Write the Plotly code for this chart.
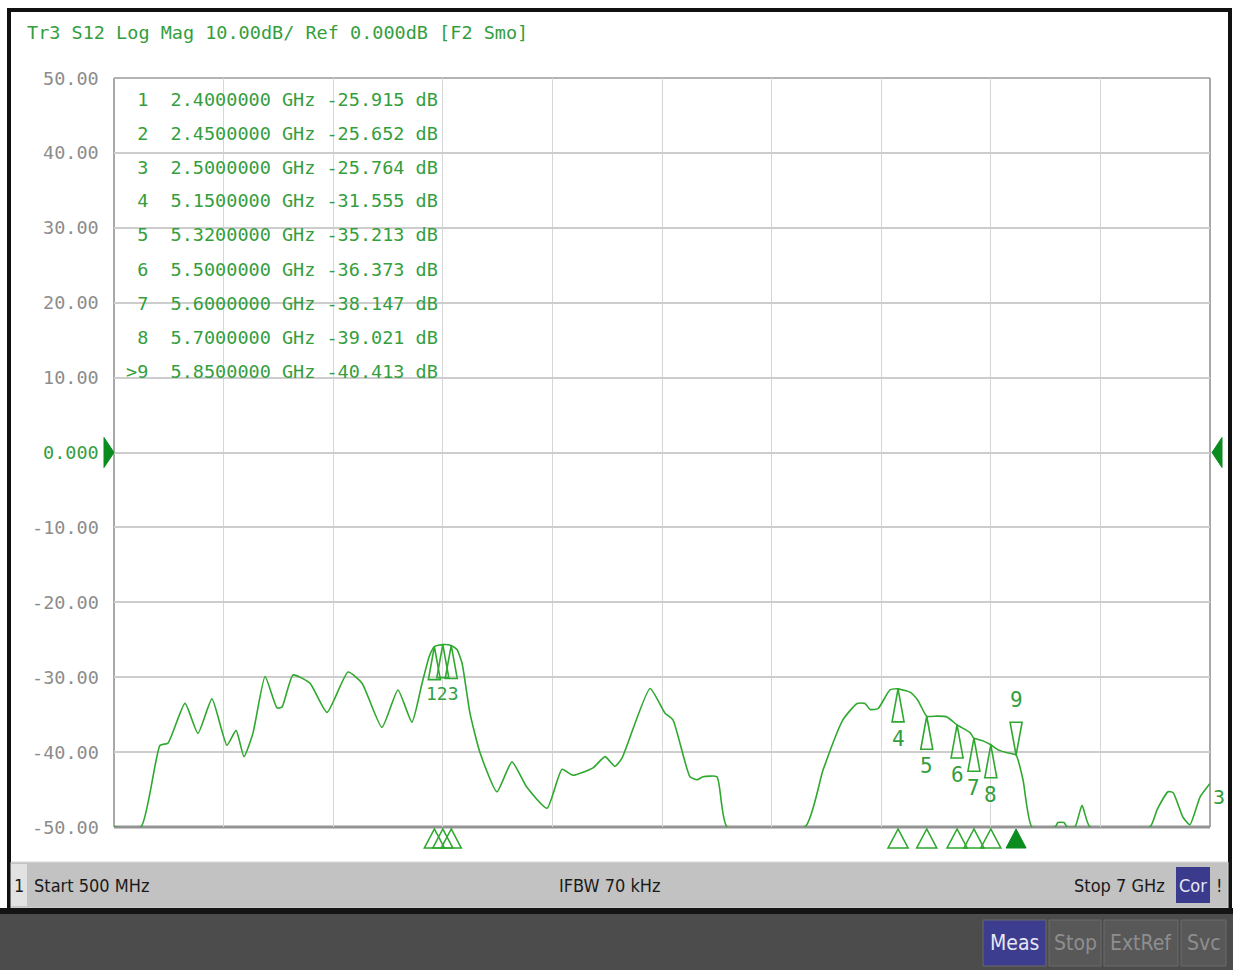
import plotly.graph_objects as go

# ---- measured S12 trace (frequency in GHz, magnitude in dB; display floor at -50 dB) ----
freq_ghz = [0.50, 0.66, 0.773, 0.82, 0.921, 0.998, 1.081, 1.17, 1.224, 1.271, 1.324, 1.396,
            1.467, 1.496, 1.562, 1.662, 1.763, 1.888, 1.971, 2.089, 2.184, 2.267, 2.327, 2.37,
            2.40, 2.45, 2.50, 2.534, 2.564, 2.611, 2.671, 2.771, 2.86, 2.949, 3.068, 3.157,
            3.222, 3.341, 3.412, 3.471, 3.513, 3.679, 3.768, 3.815, 3.916, 3.958, 3.993, 4.076,
            4.136, 4.598, 4.705, 4.823, 4.907, 4.954, 4.984, 5.031, 5.102, 5.15, 5.221, 5.268,
            5.32, 5.381, 5.44, 5.50, 5.577, 5.60, 5.654, 5.70, 5.743, 5.80, 5.85, 5.891, 5.944,
            6.081, 6.098, 6.134, 6.152, 6.199, 6.241, 6.288, 6.644, 6.686, 6.751, 6.781, 6.84,
            6.881, 6.941, 7.0]
s12_db = [-50, -50, -39.1, -38.8, -33.5, -37.5, -32.9, -39.1, -37.1, -40.6, -37.5, -29.9,
          -34.1, -34.0, -29.7, -30.8, -34.7, -29.3, -30.8, -36.7, -31.7, -36.0, -30.8, -27.2,
          -25.915, -25.652, -25.764, -26.3, -28.1, -34.8, -40.1, -45.3, -41.3, -44.7, -47.5, -42.3,
          -43.1, -42.1, -40.6, -41.9, -40.8, -31.5, -34.8, -35.7, -43.3, -43.7, -43.3, -43.3,
          -50, -50, -42.4, -35.7, -33.5, -33.5, -34.3, -34.2, -31.7, -31.555, -32.0, -33.1,
          -35.213, -35.2, -35.3, -36.373, -37.4, -38.147, -38.5, -39.021, -39.7, -40.1, -40.413, -43.7, -50,
          -50, -49.4, -49.4, -50, -50, -47.1, -50, -50, -47.7, -45.3, -45.4, -48.7,
          -49.7, -46.0, -44.2]

# ---- markers ----
marker_ids = [1, 2, 3, 4, 5, 6, 7, 8, 9]
marker_freq = [2.40, 2.45, 2.50, 5.15, 5.32, 5.50, 5.60, 5.70, 5.85]
marker_db = [-25.915, -25.652, -25.764, -31.555, -35.213, -36.373, -38.147, -39.021, -40.413]
active_marker = 9
# markers 1-3 sit within a few pixels of each other, so they share one label
marker_group = [1, 2, 3]

# ---- axes ----
f_start, f_stop = 0.5, 7.0
x_divisions = 10
y_ticks = [50, 40, 30, 20, 10, 0, -10, -20, -30, -40, -50]
y_tick_text = ["50.00", "40.00", "30.00", "20.00", "10.00", "0.000",
               "-10.00", "-20.00", "-30.00", "-40.00", "-50.00"]
ref_level = 0

title_text = "Tr3 S12 Log Mag 10.00dB/ Ref 0.000dB [F2 Smo]"
status_left = "Start 500 MHz"
status_mid = "IFBW 70 kHz"
status_right = "Stop 7 GHz"
buttons = ["Meas", "Stop", "ExtRef", "Svc"]

# ---- page geometry (pixels) ----
W, H = 1233, 970
L, R, T, B = 114, 1210, 78, 827

def px(x):
    return (x - L) / (R - L)

def py(y):
    return (B - y) / (B - T)

GREEN = "rgb(46,168,46)"
TEXT_GREEN = "rgb(52,158,62)"
DARK_GREEN = "rgb(10,140,30)"
MONO = "DejaVu Sans Mono, Liberation Mono, monospace"
NARROW = "Liberation Sans Narrow, DejaVu Sans Condensed, Roboto, sans-serif"

fig = go.Figure()
fig.add_trace(go.Scatter(
    x=freq_ghz, y=s12_db, mode="lines",
    line=dict(color=GREEN, width=1.6, shape="spline", smoothing=0.5),
    cliponaxis=False, hoverinfo="skip", showlegend=False,
))

shapes = []
annotations = []

def label(x, y, text, size, color, family=NARROW, xanchor="center", **kw):
    annotations.append(dict(x=x, y=y, xref="paper", yref="paper", xanchor=xanchor, yanchor="middle",
                            text=text, showarrow=False, font=dict(family=family, size=size, color=color),
                            **kw))

# plot frame
shapes.append(dict(type="line", xref="paper", yref="paper", x0=0, x1=0, y0=0, y1=1,
                   line=dict(color="#a8a8a8", width=2), layer="below"))
shapes.append(dict(type="line", xref="paper", yref="paper", x0=0, x1=1, y0=1, y1=1,
                   line=dict(color="#b4b4b4", width=2), layer="below"))
shapes.append(dict(type="line", xref="paper", yref="paper", x0=1, x1=1, y0=0, y1=1,
                   line=dict(color="#a8a8a8", width=2), layer="below"))
shapes.append(dict(type="line", xref="paper", yref="paper", x0=0, x1=1, y0=0, y1=0,
                   line=dict(color="#949494", width=3), layer="below"))

# reference level arrows
shapes.append(dict(type="path", xref="paper", yref="y", xsizemode="pixel", ysizemode="pixel",
                   xanchor=0, yanchor=ref_level, path="M -10,15 L 0,0 L -10,-15 Z",
                   fillcolor=DARK_GREEN, line=dict(color=DARK_GREEN, width=1)))
shapes.append(dict(type="path", xref="paper", yref="y", xsizemode="pixel", ysizemode="pixel",
                   xanchor=1, yanchor=ref_level, path="M 12,15 L 2,0 L 12,-15 Z",
                   fillcolor=DARK_GREEN, line=dict(color=DARK_GREEN, width=1)))

# markers on the trace + stimulus markers under the grid
for mid, f, v in zip(marker_ids, marker_freq, marker_db):
    if mid == active_marker:
        shapes.append(dict(type="path", xref="x", yref="y", xsizemode="pixel", ysizemode="pixel",
                           xanchor=f, yanchor=v, path="M 0,0 L -6,33 L 6,33 Z",
                           line=dict(color=GREEN, width=1.6)))
        annotations.append(dict(x=f, y=v, xref="x", yref="y", text=str(mid), showarrow=False,
                                yshift=55, font=dict(family=MONO, size=21, color=TEXT_GREEN)))
        shapes.append(dict(type="path", xref="x", yref="paper", xsizemode="pixel", ysizemode="pixel",
                           xanchor=f, yanchor=0, path="M 0,-2 L -10,-21 L 10,-21 Z",
                           fillcolor=DARK_GREEN, line=dict(color=DARK_GREEN, width=1)))
    else:
        shapes.append(dict(type="path", xref="x", yref="y", xsizemode="pixel", ysizemode="pixel",
                           xanchor=f, yanchor=v, path="M 0,0 L -6,-33 L 6,-33 Z",
                           line=dict(color=GREEN, width=1.6)))
        shapes.append(dict(type="path", xref="x", yref="paper", xsizemode="pixel", ysizemode="pixel",
                           xanchor=f, yanchor=0, path="M 0,-2 L -10,-21 L 10,-21 Z",
                           line=dict(color=GREEN, width=1.6)))
        if mid not in marker_group:
            annotations.append(dict(x=f, y=v, xref="x", yref="y", text=str(mid), showarrow=False,
                                    yshift=-50, font=dict(family=MONO, size=21, color=TEXT_GREEN)))

# shared label for the clustered markers
g_idx = [marker_ids.index(m) for m in marker_group]
g_mid = g_idx[len(g_idx) // 2]
annotations.append(dict(x=marker_freq[g_mid], y=marker_db[g_mid], xref="x", yref="y",
                        text="".join(str(m) for m in marker_group), showarrow=False, yshift=-49,
                        font=dict(family=MONO, size=18, color=TEXT_GREEN)))

# marker table
for i, (mid, f, v) in enumerate(zip(marker_ids, marker_freq, marker_db)):
    prefix = (">" if mid == active_marker else " ") + str(mid)
    row = f"{prefix}  {f:.7f} GHz {v:.3f} dB"
    label(px(124), py(99 + 34 * i), row.replace(" ", "&nbsp;"), 18.5, TEXT_GREEN, family=MONO,
          xanchor="left")

# y tick labels
for v, t in zip(y_ticks, y_tick_text):
    annotations.append(dict(x=0, y=v, xref="paper", yref="y", xanchor="right", yanchor="middle",
                            xshift=-13, text=t, showarrow=False,
                            font=dict(family=MONO, size=18.5,
                                      color=TEXT_GREEN if v == ref_level else "#8c8c8c")))

# trace title
label(px(25), py(33), title_text.replace(" ", "&nbsp;"), 18.5, TEXT_GREEN, family=MONO, xanchor="left")
annotations.append(dict(x=1, y=-46, xref="paper", yref="y", xanchor="left", yanchor="middle",
                        xshift=1, text="3", showarrow=False,
                        font=dict(family=MONO, size=20, color=TEXT_GREEN)))

# window frame
shapes.append(dict(type="rect", xref="paper", yref="paper", x0=px(8), x1=px(1231), y0=py(12), y1=py(8),
                   fillcolor="#111111", line=dict(width=0)))
shapes.append(dict(type="rect", xref="paper", yref="paper", x0=px(7), x1=px(11), y0=py(912), y1=py(8),
                   fillcolor="#111111", line=dict(width=0)))
shapes.append(dict(type="rect", xref="paper", yref="paper", x0=px(1228), x1=px(1232), y0=py(912), y1=py(8),
                   fillcolor="#111111", line=dict(width=0)))

# channel status bar
shapes.append(dict(type="rect", xref="paper", yref="paper", x0=px(11), x1=px(1228), y0=py(908), y1=py(862),
                   fillcolor="#c2c2c2", line=dict(color="#d8d8d8", width=1)))
shapes.append(dict(type="rect", xref="paper", yref="paper", x0=px(11), x1=px(27), y0=py(906), y1=py(864),
                   fillcolor="#e2e2e2", line=dict(width=0)))
shapes.append(dict(type="rect", xref="paper", yref="paper", x0=px(1176), x1=px(1210), y0=py(903), y1=py(867),
                   fillcolor="#3b3b8e", line=dict(width=0)))
shapes.append(dict(type="rect", xref="paper", yref="paper", x0=px(0), x1=px(1233), y0=py(914), y1=py(908),
                   fillcolor="#141414", line=dict(width=0)))
shapes.append(dict(type="rect", xref="paper", yref="paper", x0=px(0), x1=px(1233), y0=py(970), y1=py(914),
                   fillcolor="#4c4c4c", line=dict(width=0)))

label(px(19), py(885), "1", 18, "#1a1a1a")
label(px(32), py(885), status_left, 18, "#1a1a1a", xanchor="left")
label(px(610), py(885), status_mid, 18, "#1a1a1a")
label(px(1167), py(885), status_right, 18, "#1a1a1a", xanchor="right")
label(px(1193), py(885), "Cor", 18, "#e8e8f4")
label(px(1219), py(885), "!", 18, "#1a1a1a")

# instrument status buttons
btn_x = [(983, 1046), (1049, 1101), (1104, 1178), (1181, 1226)]
for name, (x0, x1) in zip(buttons, btn_x):
    active = name == "Meas"
    shapes.append(dict(type="rect", xref="paper", yref="paper", x0=px(x0), x1=px(x1), y0=py(966), y1=py(920),
                       fillcolor="#3d3d8f" if active else "#585858",
                       line=dict(color="#6a6a6a", width=1)))
    label(px((x0 + x1) / 2), py(943), name, 21, "#e6e6f2" if active else "#8e8e8e")

fig.update_layout(
    width=W, height=H,
    margin=dict(l=L, r=W - R, t=T, b=H - B, pad=0),
    paper_bgcolor="white", plot_bgcolor="white",
    shapes=shapes, annotations=annotations,
    xaxis=dict(range=[f_start, f_stop],
               tickvals=[f_start + (f_stop - f_start) * k / x_divisions for k in range(1, x_divisions)],
               showticklabels=False, ticks="", showgrid=True, gridcolor="#d6d6d6", gridwidth=1,
               zeroline=False, showline=False, fixedrange=True),
    yaxis=dict(range=[-50, 50], tickvals=y_ticks, showticklabels=False, ticks="",
               showgrid=True, gridcolor="#cdcdcd", gridwidth=2, zeroline=False, showline=False,
               fixedrange=True),
    showlegend=False,
)

fig.write_html("out.html")
